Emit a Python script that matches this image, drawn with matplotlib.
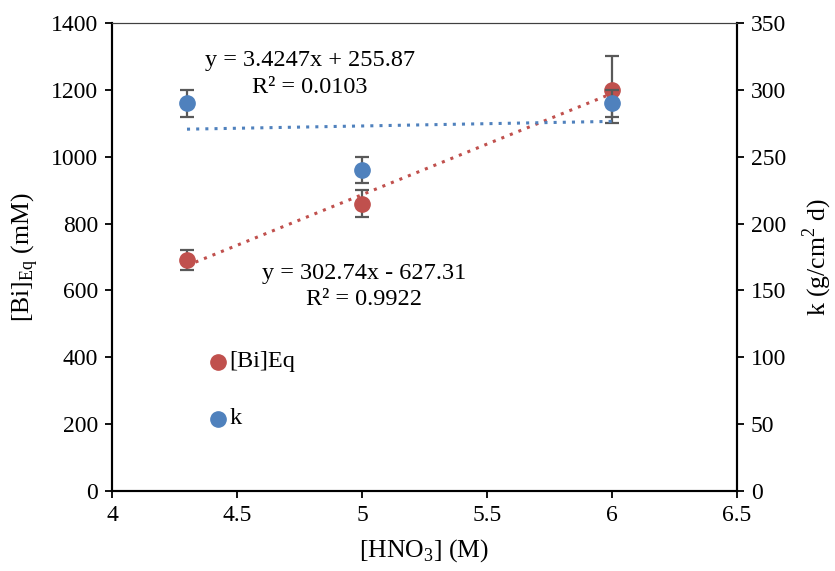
import matplotlib

matplotlib.use("Agg")
import matplotlib.pyplot as plt
import numpy as np

plt.rcParams["font.family"] = ["Liberation Serif", "DejaVu Serif"]
plt.rcParams["mathtext.fontset"] = "custom"
plt.rcParams["mathtext.rm"] = "Liberation Serif"

hno3 = [4.3, 5.0, 6.0]
bi_eq = [690, 860, 1200]
bi_err = [30, 40, 100]
k_vals = [290, 240, 290]
k_err = [10, 10, 10]

bi_fit = (302.74, -627.31)
k_fit = (3.4247, 255.87)

red = "#C0504D"
blue = "#4F81BD"
grey = "#595959"

fig = plt.figure(figsize=(8.35, 5.71), dpi=100)
ax = fig.add_axes([112 / 835, 80 / 571, 625 / 835, 468 / 571])
ax2 = ax.twinx()

xf = np.array([hno3[0], hno3[-1]])
ax.plot(xf, bi_fit[0] * xf + bi_fit[1], ls=(0, (1, 2)), color=red, lw=2.2, zorder=2)
ax2.plot(xf, k_fit[0] * xf + k_fit[1], ls=(0, (1, 2)), color=blue, lw=2.2, zorder=2)

ax.errorbar(hno3, bi_eq, yerr=bi_err, fmt="o", color=red, ms=11, ecolor=grey,
            elinewidth=1.6, capsize=5, capthick=1.6, zorder=3)
ax2.errorbar(hno3, k_vals, yerr=k_err, fmt="o", color=blue, ms=11, ecolor=grey,
             elinewidth=1.6, capsize=5, capthick=1.6, zorder=3)

ax.set_xlim(4, 6.5)
ax.set_ylim(0, 1400)
ax2.set_ylim(0, 350)
ax.set_xticks(np.arange(4, 6.51, 0.5))
ax.set_xticklabels(["4", "4.5", "5", "5.5", "6", "6.5"])
ax.set_yticks(range(0, 1401, 200))
ax2.set_yticks(range(0, 351, 50))

for a in (ax, ax2):
    for s in ("left", "right", "bottom"):
        a.spines[s].set_color("black")
        a.spines[s].set_linewidth(1.5)
    a.spines["top"].set_color("#404040")
    a.spines["top"].set_linewidth(0.8)
    a.tick_params(labelsize=17, direction="out", length=5, width=1.3, colors="black", pad=5)

ax.set_xlabel("[HNO$_3$] (M)", fontsize=18.5, labelpad=8)
ax.set_ylabel("[Bi]$_{\\mathrm{Eq}}$ (mM)", fontsize=18.5, labelpad=8)
ax2.set_ylabel("k (g/cm$^2$ d)", fontsize=18.5, labelpad=10)

ax.text(4.792, 1289, "y = 3.4247x + 255.87", ha="center", va="center", fontsize=17.5)
ax.text(4.792, 1208, "R² = 0.0103", ha="center", va="center", fontsize=17.5)
ax.text(5.008, 652, "y = 302.74x - 627.31", ha="center", va="center", fontsize=17.5)
ax.text(5.008, 572, "R² = 0.9922", ha="center", va="center", fontsize=17.5)

# legend markers drawn in axes coordinates
ax.plot([0.17], [0.276], "o", color=red, ms=11, transform=ax.transAxes, clip_on=False)
ax.text(0.188, 0.276, "[Bi]Eq", transform=ax.transAxes, va="center", fontsize=17.5)
ax.plot([0.17], [0.154], "o", color=blue, ms=11, transform=ax.transAxes, clip_on=False)
ax.text(0.188, 0.154, "k", transform=ax.transAxes, va="center", fontsize=17.5)

fig.savefig("out.png", dpi=100)
